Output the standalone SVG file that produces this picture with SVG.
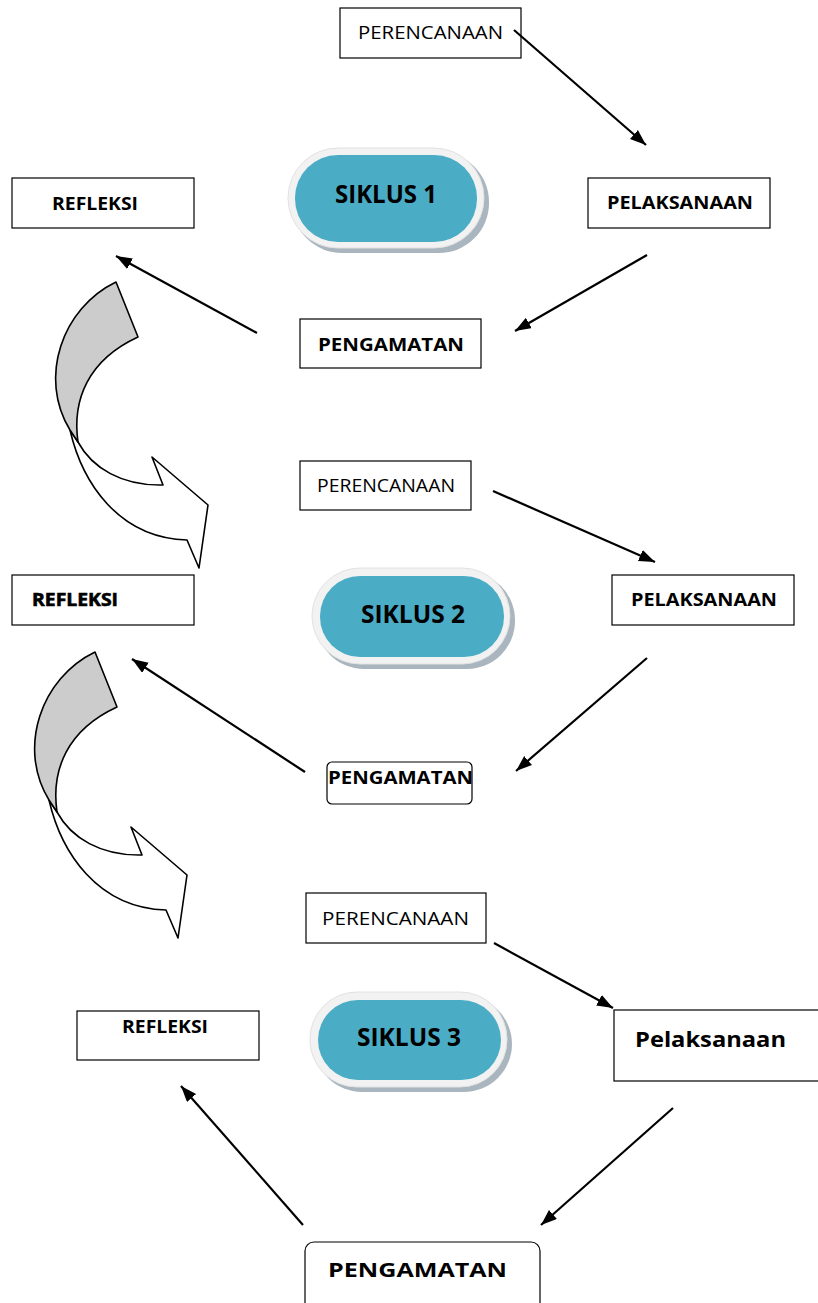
<svg xmlns="http://www.w3.org/2000/svg" width="818" height="1303" viewBox="0 0 818 1303">
<style>
.box{fill:#fff;stroke:#000;stroke-width:1.2}
.t{font-family:"Open Sans","Liberation Sans",Arial,sans-serif;fill:#000}
.reg{font-size:18px}
.b{font-weight:bold;font-size:17.5px}
.sk{font-weight:bold;font-size:25px}
.con line{stroke:#000;stroke-width:2.2;marker-end:url(#ah)}
.ring{fill:#f2f2f2;stroke:#e2e2e2;stroke-width:1}
.shadow{fill:#a9b6bf}
.teal{fill:#4BACC6}
.gray{fill:#cccccc;stroke:#000;stroke-width:1.6;stroke-linejoin:round}
.white{fill:#fff;stroke:#000;stroke-width:1.6;stroke-linejoin:round}
</style>
<defs>
<marker id="ah" markerUnits="userSpaceOnUse" markerWidth="18" markerHeight="14" refX="16" refY="6" orient="auto">
<path d="M0,0 L16,6 L0,12 z" fill="#000"/>
</marker>
<g id="curl">
<path class="white" d="M70,430 C82,482 118,538 187,540 L199,568 L208,505 L152,457 L163,485 C122,486 92,468 78,442 Z"/>
<path class="gray" d="M116,282 C62,308 38,378 70,430 L78,442 C72,400 88,360 138,337 Z"/>
</g>
</defs>

<!-- Cycle 1 -->
<g id="perencanaan1"><rect class="box" x="340" y="8" width="181" height="50"/><text class="t reg" x="358" y="39" textLength="145" lengthAdjust="spacingAndGlyphs">PERENCANAAN</text></g>
<g id="siklus1"><rect class="shadow" x="292" y="152" width="197" height="101" rx="50"/><rect class="ring" x="288" y="148" width="196" height="100" rx="50"/><rect class="teal" x="295" y="155" width="182" height="87" rx="43"/><text class="t sk" x="335" y="203" textLength="102" lengthAdjust="spacingAndGlyphs">SIKLUS 1</text></g>
<g id="pelaksanaan1"><rect class="box" x="588" y="178" width="182" height="50"/><text class="t b" x="607" y="209" textLength="146" lengthAdjust="spacingAndGlyphs">PELAKSANAAN</text></g>
<g id="pengamatan1"><rect class="box" x="300" y="319" width="181" height="49"/><text class="t b" x="318" y="351" textLength="146" lengthAdjust="spacingAndGlyphs">PENGAMATAN</text></g>
<g id="refleksi1"><rect class="box" x="12" y="178" width="182" height="50"/><text class="t b" x="52" y="210" textLength="86" lengthAdjust="spacingAndGlyphs">REFLEKSI</text></g>
<g id="curl1"><use href="#curl"/></g>

<!-- Cycle 2 -->
<g id="perencanaan2"><rect class="box" x="300" y="461" width="171" height="49"/><text class="t reg" x="317" y="492" textLength="138" lengthAdjust="spacingAndGlyphs">PERENCANAAN</text></g>
<g id="siklus2"><rect class="shadow" x="316" y="572" width="199" height="97" rx="48"/><rect class="ring" x="312" y="568" width="198" height="96" rx="48"/><rect class="teal" x="320" y="576" width="184" height="81" rx="40"/><text class="t sk" x="361" y="623" textLength="104" lengthAdjust="spacingAndGlyphs">SIKLUS 2</text></g>
<g id="pelaksanaan2"><rect class="box" x="612" y="575" width="182" height="50"/><text class="t b" x="631" y="606" textLength="146" lengthAdjust="spacingAndGlyphs">PELAKSANAAN</text></g>
<g id="pengamatan2"><rect class="box" x="327" y="762" width="145" height="42" rx="5"/><text class="t b" x="328" y="784" textLength="145" lengthAdjust="spacingAndGlyphs">PENGAMATAN</text></g>
<g id="refleksi2"><rect class="box" x="12" y="575" width="182" height="50"/><text class="t b" x="32" y="606" textLength="86" lengthAdjust="spacingAndGlyphs" style="stroke:#000;stroke-width:0.6">REFLEKSI</text></g>
<g id="curl2"><use href="#curl" transform="translate(-21,370)"/></g>

<!-- Cycle 3 -->
<g id="perencanaan3"><rect class="box" x="306" y="893" width="180" height="50"/><text class="t reg" x="322" y="925" textLength="147" lengthAdjust="spacingAndGlyphs">PERENCANAAN</text></g>
<g id="siklus3"><rect class="shadow" x="314" y="996" width="198" height="96" rx="48"/><rect class="ring" x="310" y="992" width="197" height="95" rx="47"/><rect class="teal" x="318" y="1000" width="183" height="80" rx="40"/><text class="t sk" x="357" y="1046" textLength="104" lengthAdjust="spacingAndGlyphs">SIKLUS 3</text></g>
<g id="pelaksanaan3"><rect class="box" x="614" y="1010" width="210" height="71"/><text class="t" x="635" y="1047" style="font-weight:bold;font-size:21px" textLength="151" lengthAdjust="spacingAndGlyphs">Pelaksanaan</text></g>
<g id="pengamatan3"><rect class="box" x="305" y="1242" width="235" height="75" rx="9"/><text class="t" x="328" y="1277" style="font-weight:bold;font-size:20px" textLength="179" lengthAdjust="spacingAndGlyphs">PENGAMATAN</text></g>
<g id="refleksi3"><rect class="box" x="77" y="1011" width="182" height="49"/><text class="t b" x="122" y="1033" textLength="86" lengthAdjust="spacingAndGlyphs">REFLEKSI</text></g>

<g id="connectors" class="con">
<line x1="514" y1="30" x2="646" y2="145"/>
<line x1="647" y1="255" x2="515" y2="331"/>
<line x1="257" y1="333" x2="116" y2="256"/>
<line x1="493" y1="491" x2="655" y2="562"/>
<line x1="647" y1="658" x2="516" y2="771"/>
<line x1="305" y1="772" x2="132" y2="659"/>
<line x1="494" y1="943" x2="613" y2="1008"/>
<line x1="673" y1="1108" x2="541" y2="1225"/>
<line x1="303" y1="1225" x2="181" y2="1086"/>
</g>
</svg>
